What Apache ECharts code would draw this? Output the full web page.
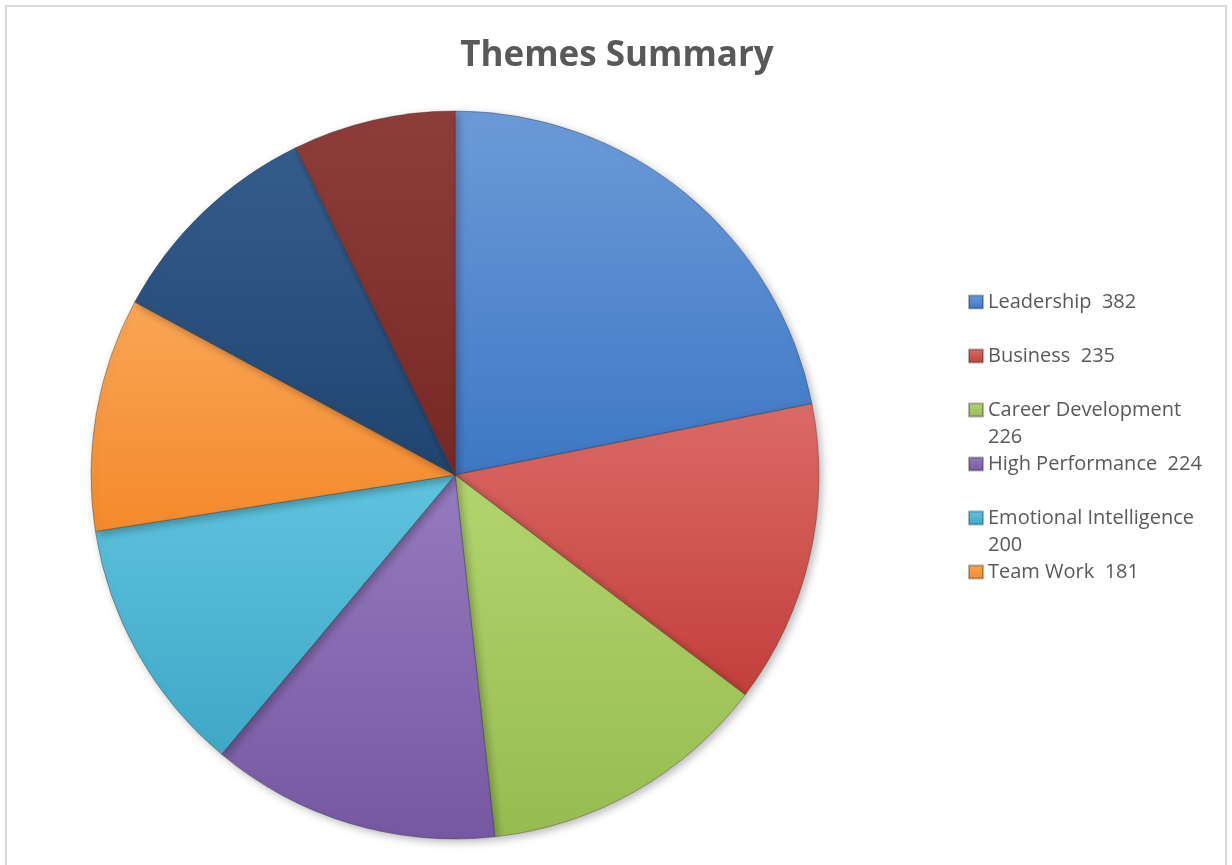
<!DOCTYPE html>
<html>
<head>
<meta charset="utf-8">
<title>Themes Summary</title>
<script src="https://cdn.jsdelivr.net/npm/echarts@6/dist/echarts.min.js"></script>
<style>
  html, body { margin: 0; padding: 0; background: #ffffff; }
  #frame { position: absolute; left: 5px; top: 5px; width: 1222px; height: 880px; border: 2px solid #d9d9d9; box-sizing: border-box; }
  #chart { position: absolute; left: 0; top: 0; width: 1232px; height: 865px; }
</style>
</head>
<body>
<div id="frame"></div>
<div id="chart"></div>
<script>
// Theme counts, clockwise from twelve o'clock
const themes = ['Leadership', 'Business', 'Career Development', 'High Performance',
                'Emotional Intelligence', 'Team Work', 'Communication', 'Strategy'];
const counts = [382, 235, 226, 224, 200, 181, 173, 126];
// Only the first six themes fit in the legend box
const legendThemes = themes.slice(0, 6);

// Light (top) and dark (bottom) tone of each slice
const lightTones = ['#6c9ad8', '#dc6a67', '#b3d56f', '#967bbf', '#5ec3de', '#f9a655', '#355d8c', '#8e3d3b'];
const darkTones  = ['#3d78c4', '#c23f3b', '#96bc4f', '#7658a2', '#3fa8c7', '#f4892b', '#1f4470', '#772824'];

function shade(i) {
  return new echarts.graphic.LinearGradient(0, 0, 0, 1, [
    { offset: 0, color: lightTones[i] },
    { offset: 1, color: darkTones[i] }
  ]);
}

const textColor = '#595959';
const fontFamily = '"Open Sans", "Noto Sans", sans-serif';
const legendFontSize = 20;
const legendWrapWidth = 225;
const legendLine = 27;

// Measure a legend entry so long ones can put their count on a second line
const measureCtx = document.createElement('canvas').getContext('2d');
measureCtx.font = legendFontSize + 'px ' + fontFamily;
function isWrapped(name) {
  const oneLine = name + '  ' + counts[themes.indexOf(name)];
  return measureCtx.measureText(oneLine).width > legendWrapWidth;
}
// A wrapped entry gets an empty first line so the swatch (centred on the
// text block) lines up with the theme name, and the count hangs below it.
function entryText(name) {
  const value = counts[themes.indexOf(name)];
  return isWrapped(name) ? '\n' + name + '\n' + value : name + '  ' + value;
}

const chart = echarts.init(document.getElementById('chart'), null, { renderer: 'canvas' });

// One legend per entry so every entry sits on a fixed 54px row
const legends = legendThemes.map((name, i) => {
  const rowCenter = 302 + i * 54;
  const half = isWrapped(name) ? legendLine * 1.5 : legendLine / 2;
  return {
    data: [name],
    left: 968,
    top: rowCenter - half,
    padding: 0,
    orient: 'vertical',
    icon: 'rect',
    itemWidth: 14,
    itemHeight: 13,
    itemGap: 0,
    selectedMode: false,
    textStyle: {
      color: textColor,
      fontFamily: fontFamily,
      fontSize: legendFontSize,
      lineHeight: legendLine
    },
    formatter: entryText
  };
});

chart.setOption({
  animation: false,
  backgroundColor: 'transparent',
  title: {
    text: 'Themes Summary',
    left: 612,
    top: 34,
    textAlign: 'center',
    textStyle: {
      color: textColor,
      fontFamily: fontFamily,
      fontWeight: 'bold',
      fontSize: 35
    }
  },
  legend: legends,
  series: [{
    type: 'pie',
    center: [455, 475],
    radius: 364,
    startAngle: 90,
    clockwise: true,
    label: { show: false },
    labelLine: { show: false },
    emphasis: { disabled: true },
    itemStyle: {
      borderColor: 'rgba(40,40,40,0.35)',
      borderWidth: 1,
      shadowBlur: 8,
      shadowColor: 'rgba(0,0,0,0.28)',
      shadowOffsetX: 3,
      shadowOffsetY: 3
    },
    data: themes.map((name, i) => ({
      name: name,
      value: counts[i],
      itemStyle: { color: shade(i) }
    }))
  }]
});
</script>
</body>
</html>
